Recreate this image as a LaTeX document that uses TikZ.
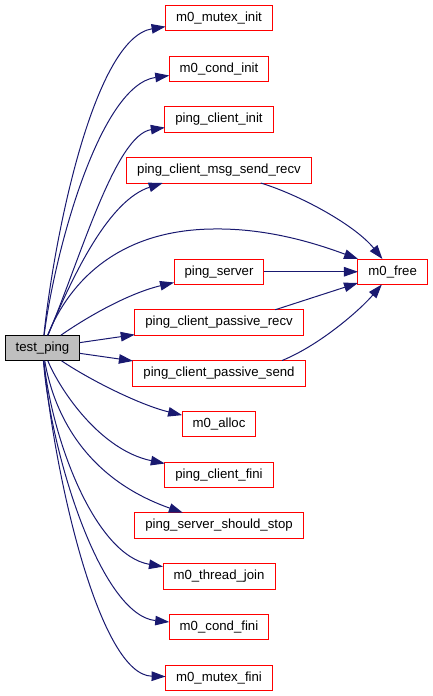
\documentclass[tikz,border=0pt]{standalone}
\usepackage{fontspec}
\setmainfont{Liberation Sans}
\usetikzlibrary{positioning, arrows.meta}
\definecolor{edgenavy}{RGB}{25, 25, 112}
\definecolor{linkred}{RGB}{255, 0, 0}
\definecolor{focusgrey}{RGB}{191, 191, 191}

\begin{document}
\begin{tikzpicture}[
    x=1pt, y=-1pt,
    node distance=25.25pt and 94pt,
    basebox/.style={
        rectangle,
        line width=1pt,
        outer sep=0pt,
        minimum height=25.5pt,
        inner xsep=10.5pt,
        font=\fontsize{13.2}{15}\selectfont
    },
    fnbox/.style={basebox, draw=linkred, fill=white},
    focusbox/.style={basebox, draw=black, fill=focusgrey},
    callarrow/.style={draw=edgenavy, line width=1pt, -{Triangle[length=14pt, width=9.5pt]}}
]

    \useasboundingbox (0,0) rectangle (433,696);

    % --- Caller ---
    \node[focusbox] (testping) at (42.5,348) {test\_ping};

    % --- Callees (one column) ---
    \node[fnbox] (mutexinit) at (219,18) {m0\_mutex\_init};
    \node[fnbox, below=of mutexinit] (condinit) {m0\_cond\_init};
    \node[fnbox, below=of condinit] (clientinit) {ping\_client\_init};
    \node[fnbox, below=of clientinit] (sendrecv) {ping\_client\_msg\_send\_recv};
    \node[fnbox, below=76pt of sendrecv] (pserver) {ping\_server};
    \node[fnbox, below=of pserver] (precv) {ping\_client\_passive\_recv};
    \node[fnbox, below=of precv] (psend) {ping\_client\_passive\_send};
    \node[fnbox, below=of psend] (alloc) {m0\_alloc};
    \node[fnbox, below=of alloc] (clientfini) {ping\_client\_fini};
    \node[fnbox, below=of clientfini] (shouldstop) {ping\_server\_should\_stop};
    \node[fnbox, below=of shouldstop] (threadjoin) {m0\_thread\_join};
    \node[fnbox, below=of threadjoin] (condfini) {m0\_cond\_fini};
    \node[fnbox, below=of condfini] (mutexfini) {m0\_mutex\_fini};

    % --- Second level ---
    \node[fnbox, right=of pserver] (mfree) {m0\_free};

    % Arrows from test_ping
    \draw[callarrow] (testping) .. controls (55,230) and (95,38) .. (mutexinit);
    \draw[callarrow] (testping) .. controls (55,250) and (100,85) .. (condinit);
    \draw[callarrow] (testping) .. controls (80,260) and (115,135) .. (clientinit);
    \draw[callarrow] (testping) .. controls (75,270) and (110,200) .. ([xshift=36pt]sendrecv.south west);
    \draw[callarrow] (testping) .. controls (70,280) and (120,230) .. (213,229)
        .. controls (270,228) and (320,245) .. (mfree);
    \draw[callarrow] (testping) .. controls (90,315) and (130,293) .. (pserver);
    \draw[callarrow] (testping) -- (precv);
    \draw[callarrow] (testping) -- (psend);
    \draw[callarrow] (testping) .. controls (90,380) and (140,405) .. (alloc);
    \draw[callarrow] (testping) .. controls (60,390) and (100,450) .. (clientfini);
    \draw[callarrow] (testping) .. controls (55,420) and (90,480) .. (shouldstop);
    \draw[callarrow] (testping) .. controls (52,440) and (95,555) .. (threadjoin);
    \draw[callarrow] (testping) .. controls (50,450) and (100,615) .. (condfini);
    \draw[callarrow] (testping) .. controls (55,480) and (100,675) .. (mutexfini);

    % Arrows into m0_free
    \draw[callarrow] (sendrecv) .. controls (300,195) and (355,225) .. (mfree);
    \draw[callarrow] (pserver) -- (mfree);
    \draw[callarrow] ([xshift=-28pt]precv.north east) -- (mfree);
    \draw[callarrow] ([xshift=-23pt]psend.north east) .. controls (320,345) and (360,310) .. (mfree);

\end{tikzpicture}
\end{document}
